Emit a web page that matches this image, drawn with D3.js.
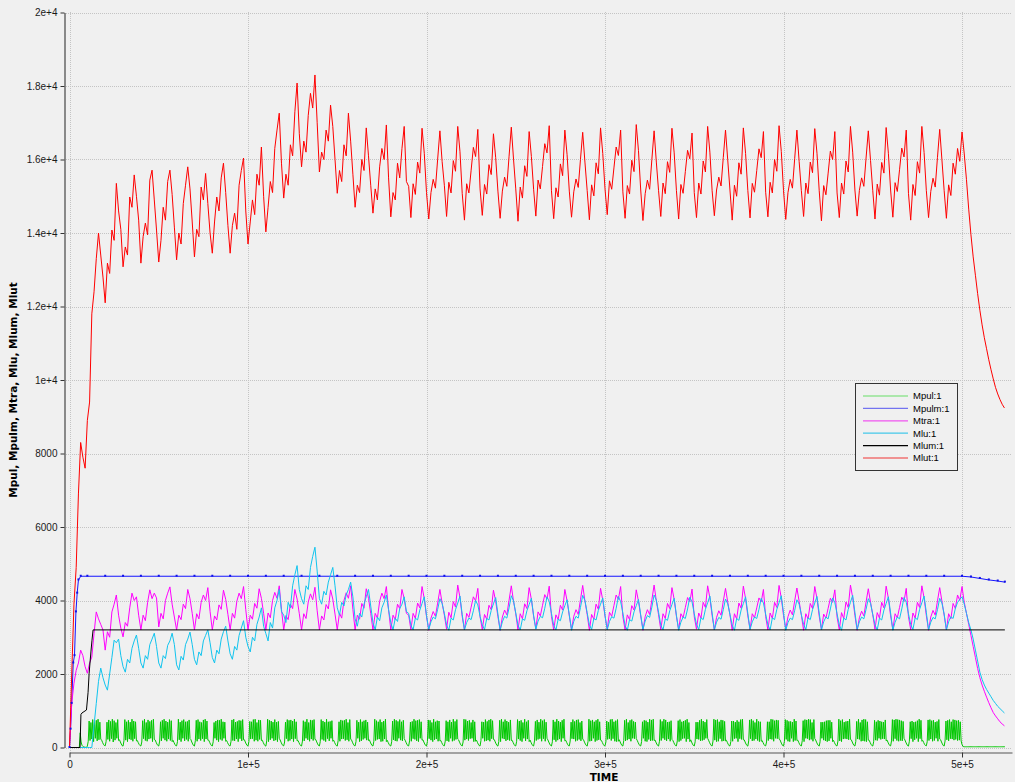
<!DOCTYPE html>
<html><head><meta charset="utf-8">
<script src="https://cdn.jsdelivr.net/npm/d3@7"></script>
<style>
body{margin:0;background:#f0f0f0;}
svg{display:block;}
</style>
</head><body>
<svg id="chart" width="1015" height="782"></svg>
<script>
// ---------------- DATA ----------------
const seriesNames = ["Mpul:1","Mpulm:1","Mtra:1","Mlu:1","Mlum:1","Mlut:1"];
const yAxisTitle = "Mpul, Mpulm, Mtra, Mlu, Mlum, Mlut";
const xAxisTitle = "TIME";
const xTickValues = [0,100000,200000,300000,400000,500000];
const xTickLabels = ["0","1e+5","2e+5","3e+5","4e+5","5e+5"];
const yTickValues = [0,2000,4000,6000,8000,10000,12000,14000,16000,18000,20000];
const yTickLabels = ["0","2000","4000","6000","8000","1e+4","1.2e+4","1.4e+4","1.6e+4","1.8e+4","2e+4"];

// Mpul: sampled every 500 time units
const mpulStep = 500;
const mpulValues = [
0,0,0,0,0,0,0,0,0,0,0,0,400,150,60,30,15,10,5,0,
40,170,720,190,680,230,760,160,700,250,740,180,770,210,690,230,200,140,90,55,
45,160,690,220,750,170,710,240,770,150,730,200,680,250,760,190,210,150,95,50,
38,180,760,200,700,160,740,230,690,210,770,170,720,240,700,180,190,135,85,52,
42,150,730,240,770,190,680,170,750,230,710,250,740,160,770,220,205,145,92,56,
40,175,700,180,740,250,770,200,720,170,690,230,760,190,730,160,195,140,88,50,
44,165,770,210,690,160,730,250,760,180,700,220,710,170,750,240,215,150,96,54,
39,185,740,170,760,230,700,190,680,240,750,160,770,230,720,200,200,142,90,53,
41,155,680,250,720,200,750,160,740,220,770,190,700,250,690,170,190,138,87,51,
43,170,750,190,770,180,690,230,710,160,740,240,730,180,760,210,210,148,94,55,
40,160,710,230,700,240,760,170,770,200,680,170,750,220,740,190,198,141,89,52,
38,180,770,160,740,210,720,250,690,180,760,200,690,160,710,250,205,146,93,56,
45,150,690,240,760,170,740,190,750,230,720,160,770,240,700,180,192,137,86,50,
40,175,730,180,700,250,770,210,680,170,750,230,740,190,760,220,212,151,97,55,
42,165,760,220,720,190,690,160,770,240,700,180,710,250,730,170,197,139,88,51,
39,185,700,170,750,230,730,240,740,190,770,210,680,170,760,230,203,144,91,53,
44,160,740,250,690,160,760,180,700,220,730,250,750,200,690,190,208,147,95,54,
41,170,770,190,730,220,700,230,760,160,690,170,720,230,770,160,195,140,89,52,
40,155,720,210,770,180,740,170,710,250,760,200,700,180,740,240,200,143,90,50,
43,180,690,170,710,240,770,220,730,180,740,160,760,250,700,200,210,150,96,56,
38,165,750,240,740,200,680,160,770,210,700,230,730,170,720,180,190,136,86,51,
45,175,730,180,700,160,750,250,690,170,770,190,710,220,760,230,206,147,93,55,
40,150,770,200,760,230,720,190,740,240,680,250,750,160,700,170,199,142,90,52,
42,185,700,250,690,170,760,180,710,200,750,170,770,240,730,220,213,152,98,54,
39,160,740,160,770,250,700,230,760,180,720,210,690,190,750,190,194,139,87,50,
44,170,760,230,720,190,740,160,680,250,770,180,700,230,740,160,202,145,92,53,
41,180,710,190,750,220,690,240,770,170,730,240,760,170,690,250,207,148,94,56,
40,155,750,210,700,160,770,200,720,230,690,160,740,250,770,180,196,140,89,51,
43,175,690,240,760,230,710,170,750,190,760,220,680,180,720,230,204,146,93,55,
38,165,770,170,730,180,750,250,700,160,740,190,770,210,700,200,192,138,87,50,
45,150,720,220,690,240,760,190,770,240,700,170,730,160,760,170,211,150,96,54,
40,185,740,180,770,200,680,230,740,170,760,250,710,240,690,240,198,142,90,52,
42,160,700,250,740,170,730,160,690,220,770,180,750,190,770,190,205,147,94,55,
39,170,760,190,710,250,770,210,750,180,690,230,700,170,730,220,193,139,88,51,
44,180,730,160,760,190,700,240,720,250,740,160,770,230,680,160,209,149,95,56,
41,155,690,230,690,220,740,180,770,190,720,210,690,250,760,250,200,143,91,53,
40,175,770,200,750,160,760,170,700,240,750,170,740,180,710,180,196,141,89,50,
43,165,720,170,720,240,690,250,740,160,700,240,760,220,770,210,207,148,94,55,
38,180,750,240,770,180,730,190,680,230,770,190,710,160,700,170,191,137,86,52,
45,150,700,190,700,230,770,220,760,170,730,250,750,240,740,230,212,151,97,54,
40,170,760,220,740,170,710,160,710,250,690,160,770,190,720,190,199,142,90,51,
42,185,730,160,760,250,750,240,770,200,760,220,680,170,760,240,204,146,93,56,
39,160,690,250,690,200,700,180,730,160,740,180,740,250,690,160,194,139,88,50,
44,175,770,180,730,160,760,230,690,240,710,230,720,210,770,220,208,149,95,55,
41,165,710,230,770,220,680,170,750,180,770,170,760,160,700,200,197,141,89,52,
40,155,740,200,700,190,740,250,720,220,700,240,690,230,750,180,202,145,92,54,
43,180,760,170,750,240,770,190,760,170,750,190,730,180,710,250,206,147,94,51,
38,170,700,240,720,160,690,210,700,250,730,160,770,240,740,170,193,138,87,55,
45,160,750,190,760,230,730,170,740,190,690,250,710,170,760,230,210,150,96,53,
40,175,720,210,740,180,760,240,700,230,760,200,750,220,730,190,740,200,700,180,
80,35,20,20,20,20,20,20,20,20,20,20,20,20,20,20,20,20,20,20,20,20,20,20,20,
20,20,20,20,20,20,20,20,20,20,20,20,20,20,20,20,20,20,20,20,20,20,20,20
];

// Mpulm: irregular sample times
const mpulmTimes = [0,600,1200,2100,2800,3600,4300,5000,6300,
10000,20000,30000,40000,50000,60000,70000,80000,90000,100000,
110000,120000,130000,140000,150000,160000,170000,180000,190000,200000,
210000,220000,230000,240000,250000,260000,270000,280000,290000,300000,
310000,320000,330000,340000,350000,360000,370000,380000,390000,400000,
410000,420000,430000,440000,450000,460000,470000,480000,490000,500000,
505000,510000,515000,520000,524000];
const mpulmValues = [0,500,1200,2300,2500,3690,4200,4560,4660,
4660,4660,4660,4660,4660,4660,4660,4660,4660,4660,
4660,4660,4660,4660,4660,4660,4660,4660,4660,4660,
4660,4660,4660,4660,4660,4660,4660,4660,4660,4660,
4660,4660,4660,4660,4660,4660,4660,4660,4660,4660,
4660,4660,4660,4660,4660,4660,4660,4660,4660,4660,
4640,4600,4560,4530,4500];

// Mtra: sampled every 1250 time units
const mtraStep = 1250;
const mtraValues = [
0,1200,1750,2100,2300,2650,2500,2200,2020,2300,2460,3100,3690,3500,3350,3200,
2650,3150,3000,3690,3900,4150,3600,3250,
3010,3400,3300,3800,4200,4000,4100,3600,
3200,3600,3450,3950,4290,4050,4200,4070,
3280,3650,3500,4000,4200,4370,3900,3550,
3200,3600,3480,3900,3780,4300,4050,3650,
3200,3640,3500,3950,4150,4000,4350,3700,
3200,3580,3470,3880,3760,4280,4030,3620,
3200,3650,3520,3980,4200,4050,4380,3750,
3200,3600,3490,3920,3790,4320,4060,3650,
3200,3660,3530,4000,4220,4060,4400,3760,
3200,3590,3480,3900,3780,4300,4040,3640,
3200,3640,3510,3960,4180,4020,4360,3720,
3200,3580,3470,3890,3770,4290,4040,3630,
3200,3660,3520,4000,4210,4060,4400,3760,
3200,3600,3490,3920,3790,4320,4060,3650,
3200,3650,3520,3980,4200,4050,4380,3750,
3200,3600,3480,3900,3780,4300,4050,3650,
3600,3210,3650,3510,3930,3800,4380,4050,
3560,3190,3520,3700,3570,3930,4300,3930,
3600,3220,3680,3530,3970,3820,4420,4080,
3560,3200,3650,3540,3820,4100,3990,4330,
3560,3210,3620,3490,3870,3750,4280,3980,
3560,3190,3550,3740,3610,4010,4400,3980,
3640,3200,3640,3500,3910,3780,4350,4030,
3570,3230,3690,3580,3870,4160,4040,4390,
3560,3200,3610,3480,3870,3740,4300,3990,
3580,3210,3570,3750,3620,4020,4410,3990,
3620,3190,3620,3490,3900,3760,4330,4010,
3570,3220,3680,3570,3860,4150,4030,4380,
3560,3200,3610,3480,3860,3740,4290,3980,
3580,3190,3560,3750,3620,4020,4420,3990,
3610,3210,3640,3510,3920,3780,4350,4030,
3570,3200,3640,3530,3810,4080,3970,4310,
3560,3220,3660,3520,3950,3810,4400,4070,
3590,3200,3540,3720,3600,3980,4330,3960,
3610,3190,3640,3500,3930,3790,4390,4050,
3580,3210,3640,3530,3800,4070,3960,4300,
3560,3200,3660,3510,3950,3810,4410,4070,
3590,3220,3560,3740,3610,3990,4340,3980,
3600,3190,3640,3500,3920,3780,4380,4050,
3570,3210,3630,3520,3790,4060,3950,4290,
3550,3200,3670,3510,3960,3810,4420,4080,
3590,3190,3530,3710,3580,3960,4320,3950,
3610,3220,3670,3520,3950,3800,4390,4060,
3580,3200,3640,3530,3810,4090,3980,4330,
3560,3210,3660,3520,3950,3810,4400,4070,
3590,3190,3550,3730,3600,3990,4350,3980,
3600,3200,3640,3500,3920,3780,4150,4000,
4380,3950,3650,3350,3050,2750,2450,2150,1900,1700,1530,1370,1220,1080,950,860,780,700,640,590
];

// Mlu: sampled every 1250 time units
const mluStep = 1250;
const mluValues = [
0,0,0,0,0,0,0,0,0,0,0,600,1200,1800,2160,1900,
1700,1560,2000,2450,2920,2850,2950,2500,
2200,2050,2400,2300,2700,2900,3060,2700,
2300,2160,2500,2400,2800,2950,3110,2750,
2300,2160,2500,2420,2780,2900,3110,2800,
2250,2110,2480,2380,2800,2950,3140,2800,
2400,2250,2600,2500,2900,3050,3200,2850,
2450,2300,2650,2550,2950,3150,3300,2900,
2550,2400,2750,2650,3050,3250,3450,3000,
2750,2600,3000,2900,3350,3550,3800,3300,
3100,2900,3400,3250,3800,4000,4300,3700,
3600,3400,3950,3800,4400,4700,4950,4300,
4050,3900,4400,4300,4900,5200,5450,4800,
4050,3900,4250,4150,4500,4700,4900,4400,
3800,3600,3950,3850,4150,4300,4500,4100,
3500,3300,3650,3550,3900,4100,4300,3850,
3400,3200,3550,3450,3800,3950,4150,3750,
3400,3200,3520,3430,3780,3900,4100,3700,
3650,3330,3200,3520,3470,3740,3920,4100,
3590,3210,3420,3550,3500,3760,4050,3920,
3650,3330,3190,3520,3470,3750,3930,4120,
3620,3200,3400,3520,3480,3720,4000,3880,
3570,3340,3210,3510,3470,3730,3910,4080,
3630,3190,3420,3570,3520,3800,4130,3990,
3660,3330,3200,3500,3460,3720,3890,4060,
3590,3220,3440,3570,3530,3790,4100,3970,
3650,3320,3200,3490,3450,3690,3860,4020,
3610,3190,3430,3570,3520,3810,4140,4000,
3670,3340,3210,3510,3470,3730,3900,4070,
3600,3200,3430,3560,3520,3790,4110,3970,
3660,3320,3190,3480,3440,3690,3860,4030,
3610,3210,3440,3590,3540,3820,4150,4010,
3680,3330,3200,3500,3460,3720,3890,4060,
3600,3190,3410,3550,3510,3770,4090,3960,
3640,3350,3210,3530,3480,3760,3940,4120,
3660,3200,3410,3540,3490,3750,4040,3910,
3620,3330,3190,3510,3460,3740,3920,4100,
3650,3210,3420,3550,3510,3760,4060,3930,
3630,3340,3200,3530,3480,3760,3940,4130,
3670,3190,3400,3520,3480,3730,4020,3900,
3610,3350,3210,3530,3480,3750,3930,4110,
3660,3200,3420,3550,3500,3770,4070,3940,
3640,3330,3190,3520,3470,3760,3950,4140,
3680,3210,3420,3550,3500,3760,4050,3920,
3620,3340,3200,3520,3470,3740,3920,4100,
3660,3190,3410,3550,3500,3770,4080,3950,
3640,3350,3210,3530,3480,3760,3940,4120,
3680,3200,3410,3540,3500,3750,4060,3930,
3630,3200,3420,3560,3510,3780,3950,4030,
4100,3900,3650,3400,3200,2950,2650,2350,2050,1850,1700,1580,1480,1380,1280,1200,1120,1060,1000,940
];

// Mlum: irregular sample times
const mlumTimes = [0,5900,6400,7000,9500,10400,11000,12000,12600,13200,524000];
const mlumValues = [0,0,900,940,1020,1500,2020,2600,2920,3200,3200];

// Mlut: sampled every 1250 time units
const mlutStep = 1250;
const mlutValues = [
0,2000,3900,4900,6900,8300,7900,7600,8900,9400,11800,12400,13300,14000,13400,12800,
12100,13180,12900,14080,13800,15350,14600,14100,
13080,13620,13400,14980,14700,15580,15000,14350,
13180,13900,14270,13950,15440,15710,14900,14080,
13210,13800,14700,14350,15400,15710,15050,14160,
13270,14000,13700,14800,15300,15800,15200,14300,
13350,14100,13900,15250,14900,15620,14800,14000,
13450,14300,14980,14600,15500,15900,15100,14200,
13450,14200,14540,14100,15300,15700,16040,14600,
13700,14300,14900,14500,15600,15300,16340,15000,
14030,14700,15400,15100,16300,16800,17260,15900,
14950,15600,15300,16400,16100,17300,18080,16700,
15800,16500,16200,17200,17800,17400,18300,17000,
15660,16200,16000,16800,16500,17480,16900,16000,
15080,15700,15400,16400,16100,17260,16500,15600,
14700,15300,15100,16000,15700,16860,16100,15300,
14540,15200,14900,15800,16300,16000,16940,15500,
14440,15100,14900,15900,15500,16300,16900,15400,
15270,14420,15340,15050,15930,15630,16850,16170,
15100,14380,15100,15460,15220,16010,16780,15940,
15300,14450,15380,15090,15970,15680,16900,16210,
15080,14350,15340,15090,15710,16330,16080,16820,
15200,14480,15320,15060,15860,15590,16700,16050,
15140,14400,15140,15520,15270,16090,16880,16010,
15200,14320,15250,14950,15830,15540,16760,16080,
15190,14460,15440,15200,15810,16430,16180,16920,
15150,14390,15230,14980,15880,15560,16800,16130,
15140,14430,15120,15470,15240,16000,16740,15930,
15160,14360,15310,15010,15910,15610,16860,16160,
15200,14500,15420,15190,15770,16340,16110,16800,
15120,14400,15290,15060,15980,15670,16950,16240,
15170,14340,15070,15440,15190,16000,16780,15930,
15150,14450,15360,15070,15940,15650,16850,16180,
15160,14380,15320,15080,15670,16250,16020,16720,
15100,14420,15360,15060,15960,15660,16900,16200,
15150,14470,15170,15520,15280,16050,16800,15990,
15170,14350,15300,15000,15910,15600,16860,16160,
15160,14410,15350,15110,15700,16290,16050,16760,
15110,14440,15380,15090,16000,15680,16920,16220,
15160,14370,15100,15460,15220,16020,16800,15950,
15150,14450,15360,15070,15930,15640,16840,16170,
15150,14330,15290,15040,15630,16230,16000,16760,
15090,14420,15360,15060,15960,15660,16900,16200,
15170,14460,15160,15500,15270,16040,16780,15970,
15150,14380,15330,15030,15920,15630,16870,16170,
15170,14430,15370,15130,15720,16310,16070,16800,
15080,14350,15320,15020,15940,15630,16900,16190,
15160,14420,15130,15490,15250,16060,16820,15990,
15150,14400,15310,15020,15900,15600,16300,15950,
16750,16150,15450,14650,13950,13350,12850,12350,11900,11500,11150,10850,10550,10280,10030,9800,9620,9470,9340,9240
];

const seriesColors = ["#00c800","#1414ff","#ff00ff","#10c4ee","#000000","#ff0000"];
const legendColors = ["#66dd66","#7373f0","#f055f0","#44c8ea","#000000","#f03535"];

// ---------------- CHART ----------------
const svg = d3.select("#chart");
const W = 1015, H = 782;
svg.append("rect").attr("width", W).attr("height", H).attr("fill", "#f0f0f0");

const x = d3.scaleLinear().domain([0, 528000]).range([69.5, 1012]);
const y = d3.scaleLinear().domain([0, 20000]).range([747.5, 12.5]);
const yAxisX = 64.5, xAxisY = 752.5;

// grid
const grid = svg.append("g");
grid.selectAll("line.h").data(yTickValues).enter().append("line")
  .attr("x1", 66).attr("x2", 1012)
  .attr("y1", d => Math.round(y(d)) + 0.5).attr("y2", d => Math.round(y(d)) + 0.5)
  .attr("stroke", "#c4c4c4").attr("stroke-dasharray", "1,1");
grid.selectAll("line.v").data(xTickValues).enter().append("line")
  .attr("y1", 12).attr("y2", 751)
  .attr("x1", d => Math.round(x(d)) + 0.5).attr("x2", d => Math.round(x(d)) + 0.5)
  .attr("stroke", "#c4c4c4").attr("stroke-dasharray", "1,1");

// axes
const yAxis = d3.axisLeft(y).tickValues(yTickValues)
  .tickFormat((d, i) => yTickLabels[i]).tickSizeInner(4).tickSizeOuter(0).tickPadding(3);
const gy = svg.append("g").attr("transform", `translate(${yAxisX},0)`).call(yAxis);
const xAxis = d3.axisBottom(x).tickValues(xTickValues)
  .tickFormat((d, i) => xTickLabels[i]).tickSizeInner(5).tickSizeOuter(0).tickPadding(3);
const gx = svg.append("g").attr("transform", `translate(0,${xAxisY})`).call(xAxis);
[gx, gy].forEach(g => {
  g.selectAll("text").attr("font-family", "'Liberation Sans', Arial, sans-serif")
    .attr("font-size", 10).attr("fill", "#1a1a1a");
  g.selectAll("line").attr("stroke", "#333");
  g.select(".domain").attr("stroke", "#222");
});
gx.select(".domain").attr("stroke", "#555");

// axis titles
svg.append("text").attr("x", 604).attr("y", 781).attr("text-anchor", "middle")
  .attr("font-family", "'DejaVu Sans', sans-serif").attr("font-weight", "bold")
  .attr("font-size", 10.5).attr("fill", "#000").text(xAxisTitle);
svg.append("text").attr("transform", "translate(17,390) rotate(-90)")
  .attr("text-anchor", "middle")
  .attr("font-family", "'DejaVu Sans', sans-serif").attr("font-weight", "bold")
  .attr("font-size", 10.5).attr("fill", "#000").text(yAxisTitle);

// series
const byStep = (vals, step) => vals.map((v, i) => [i * step, v]);
const byTimes = (ts, vals) => vals.map((v, i) => [ts[i], v]);
const series = [
  byStep(mpulValues, mpulStep),
  byTimes(mpulmTimes, mpulmValues),
  byStep(mtraValues, mtraStep),
  byStep(mluValues, mluStep),
  byTimes(mlumTimes, mlumValues),
  byStep(mlutValues, mlutStep)
];
const line = d3.line().x(d => x(d[0])).y(d => y(d[1]));
const plot = svg.append("g");
series.forEach((pts, i) => {
  plot.append("path").datum(pts).attr("d", line)
    .attr("fill", "none").attr("stroke", seriesColors[i]).attr("stroke-width", 1)
    .attr("stroke-linejoin", "miter");
});
// point markers on Mpulm
plot.selectAll("rect.m").data(series[1]).enter().append("rect")
  .attr("x", d => x(d[0]) - 1).attr("y", d => y(d[1]) - 1.5)
  .attr("width", 2).attr("height", 2).attr("fill", "#1010e8");

// legend
const lg = svg.append("g");
lg.append("rect").attr("x", 855.5).attr("y", 383.5).attr("width", 102).attr("height", 87)
  .attr("fill", "#f0f0f0").attr("stroke", "#333");
seriesNames.forEach((n, i) => {
  const yy = 396 + i * 12.4;
  lg.append("line").attr("x1", 863).attr("x2", 908).attr("y1", yy).attr("y2", yy)
    .attr("stroke", legendColors[i]).attr("stroke-width", 1.2);
  lg.append("text").attr("x", 913).attr("y", yy).attr("dy", "0.35em")
    .attr("font-family", "'Liberation Sans', Arial, sans-serif").attr("font-size", 9.5)
    .attr("fill", "#000").text(n);
});
</script>
</body></html>
